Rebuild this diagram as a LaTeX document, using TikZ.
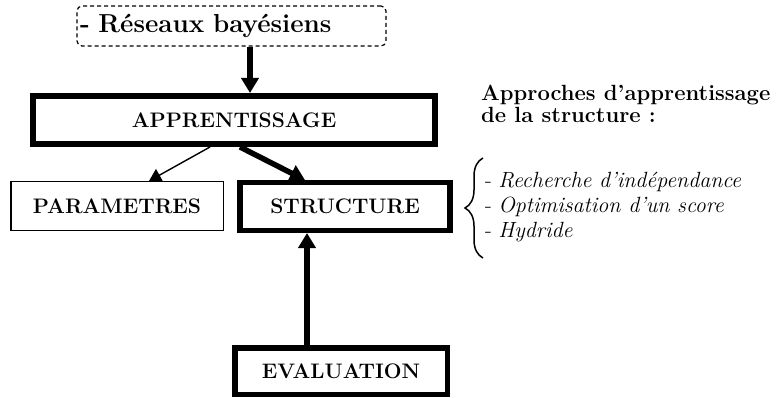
\documentclass[tikz,border=0pt]{standalone}
\usepackage{fontspec}
\usetikzlibrary{arrows.meta,decorations.pathreplacing}

\tikzset{
  boxtext/.style={font=\fontsize{21}{24}\selectfont\bfseries, align=center, inner sep=0pt},
  thinbox/.style={boxtext, draw, line width=1.5pt},
  thickbox/.style={boxtext, draw, line width=5.5pt},
  thinarrow/.style={line width=1.4pt, -{Triangle[length=12pt,width=14pt]}},
  thickarrow/.style={line width=5.5pt, -{Triangle[length=15pt,width=17pt]}},
}

\begin{document}
\begin{tikzpicture}[x=1pt,y=-1pt]
  \useasboundingbox (0,0) rectangle (784,398);

  % source box
  \node[draw, dashed, dash pattern=on 4pt off 3pt, line width=1.2pt, rounded corners=5pt,
        minimum width=309pt, minimum height=40pt, inner sep=2pt,
        text width=303pt, align=left,
        font=\fontsize{26}{30}\selectfont\bfseries] (res) at (231.5,26) {- Réseaux bayésiens};

  % main boxes
  \node[thickbox, line width=6pt, minimum width=402pt, minimum height=48pt] (app) at (234,120) {APPRENTISSAGE};
  \node[thinbox, minimum width=212.5pt, minimum height=48.5pt] (par) at (117,206) {PARAMETRES};
  \node[thickbox, minimum width=210pt, minimum height=47.5pt] (str) at (345,206.5) {STRUCTURE};
  \node[thickbox, minimum width=212.5pt, minimum height=46.5pt] (eva) at (341,371) {EVALUATION};

  % connectors
  \draw[thickarrow] ([xshift=18.5pt]res.south) -- ([xshift=16pt]app.north);
  \draw[thinarrow] ([xshift=-24pt]app.south) -- ([xshift=32pt]par.north);
  \draw[thickarrow] ([xshift=6pt]app.south) -- ([xshift=-40pt]str.north);
  \draw[thickarrow] ([xshift=-34pt]eva.north) -- ([xshift=-38pt]str.south);

  % structure-learning approaches
  \node[anchor=north west, align=left, inner sep=0pt,
        font=\fontsize{22}{22}\selectfont\bfseries] (head) at (481,85)
        {Approches d'apprentissage\\de la structure :};
  \node[anchor=west, align=left, inner sep=0pt,
        font=\fontsize{22}{25}\selectfont] (items) at (485,207)
        {- \textit{Recherche d'indépendance}\\- \textit{Optimisation d'un score}\\- \textit{Hydride}};
  \draw[line width=1.5pt, decorate, decoration={brace, amplitude=18pt, aspect=0.5}]
        (483,258) -- (483,158);
\end{tikzpicture}
\end{document}
